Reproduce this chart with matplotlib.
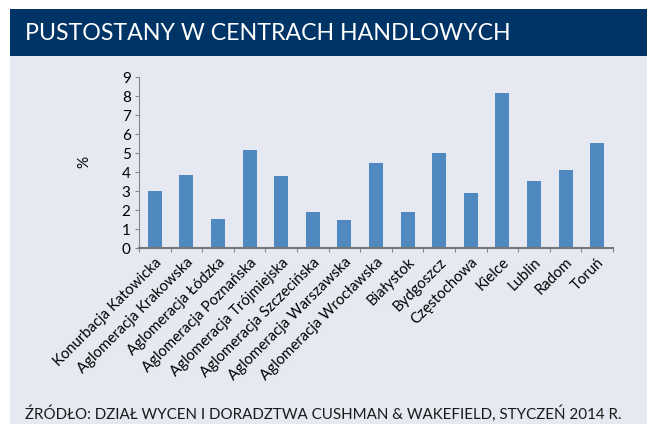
import numpy as np
import matplotlib
matplotlib.use("Agg")
import matplotlib.pyplot as plt
from matplotlib.patches import Rectangle

plt.rcParams['font.family'] = ['Lato', 'DejaVu Sans']

# data
regions = ["Konurbacja Katowicka", "Aglomeracja Krakowska", "Aglomeracja Łódzka",
           "Aglomeracja Poznańska", "Aglomeracja Trójmiejska", "Aglomeracja Szczecińska",
           "Aglomeracja Warszawska", "Aglomeracja Wrocławska", "Białystok", "Bydgoszcz",
           "Częstochowa", "Kielce", "Lublin", "Radom", "Toruń"]
vacancy = [3.0, 3.85, 1.55, 5.2, 3.8, 1.9, 1.5, 4.5, 1.9, 5.0, 2.9, 8.2, 3.55, 4.1, 5.55]
y_ticks = list(range(0, 10))

title = "PUSTOSTANY W CENTRACH HANDLOWYCH"
source = "ŹRÓDŁO: DZIAŁ WYCEN I DORADZTWA CUSHMAN & WAKEFIELD, STYCZEŃ 2014 R."

W, H = 647, 430
fig = plt.figure(figsize=(W / 100, H / 100), dpi=100)
fig.patch.set_facecolor("white")

# background panel and title band (pixel coords converted to figure fraction)
fig.patches.append(Rectangle((10 / W, (H - 424) / H), (W - 10) / W, (424 - 56) / H,
                             transform=fig.transFigure, facecolor="#E6E9F2",
                             edgecolor="none", zorder=-2))
fig.patches.append(Rectangle((10 / W, (H - 56) / H), (W - 10) / W, 47 / H,
                             transform=fig.transFigure, facecolor="#003466",
                             edgecolor="none", zorder=-2))
fig.text(25 / W, (H - 33) / H, title, color="white", fontsize=16.7, va="center", ha="left")
fig.text(25 / W, (H - 413.5) / H, source, color="#1a1a1a", fontsize=10.9, va="center", ha="left")

ax = fig.add_axes([139 / W, (H - 248.3) / H, 474 / W, 171 / H])
ax.set_zorder(2)
ax.set_facecolor("none")
x = np.arange(len(regions))
ax.bar(x, vacancy, width=0.44, color="#4F89C0", zorder=2)

ax.set_xlim(-0.5, len(regions) - 0.5)
ax.set_ylim(0, 9)
ax.set_yticks(y_ticks)
ax.tick_params(axis="y", length=3, color="#888888", labelsize=11, pad=3)
ax.set_xticks(np.arange(-0.5, len(regions), 1.0))
ax.set_xticklabels([])
ax.tick_params(axis="x", length=3, color="#888888")
ax.set_xticks(x, minor=True)
ax.set_xticklabels(regions, minor=True, rotation=45, ha="right",
                   rotation_mode="anchor", fontsize=10.7)
ax.tick_params(axis="x", which="minor", length=0, pad=5)

for side in ["top", "right"]:
    ax.spines[side].set_visible(False)
ax.spines["left"].set_color("#888888")
ax.spines["bottom"].set_color("#777777")
ax.spines["bottom"].set_linewidth(1.5)

fig.text(84 / W, (H - 162) / H, "%", rotation=90, fontsize=11, va="center", ha="center")

fig.savefig("out.png", dpi=100)
